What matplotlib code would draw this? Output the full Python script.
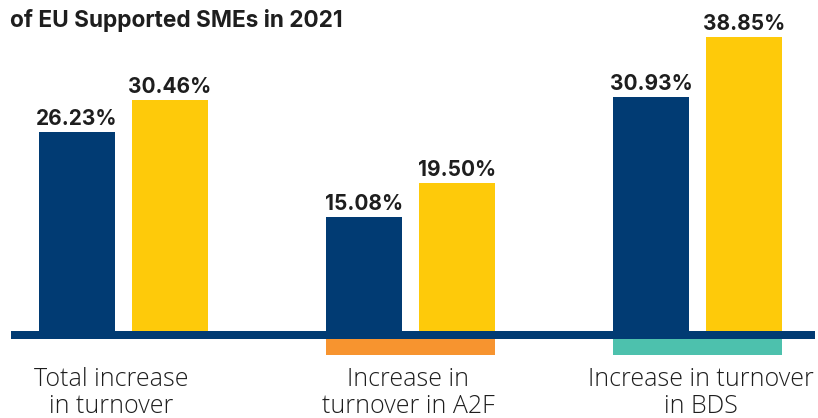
import matplotlib
matplotlib.use("Agg")
import matplotlib.pyplot as plt
from matplotlib.patches import Rectangle

# Data
categories = ["Total increase\nin turnover", "Increase in\nturnover in A2F", "Increase in turnover\nin BDS"]
series_a = [26.23, 15.08, 30.93]   # dark blue bars
series_b = [30.46, 19.50, 38.85]   # yellow bars
strip_colors = [None, "#F7942F", "#4DC1AD"]

NAVY = "#013B73"
YELLOW = "#FECA0A"
TEXT = "#1E1E1E"

plt.rcParams["font.family"] = ["Open Sans", "DejaVu Sans"]
BOLD_FONT = ["Inter", "DejaVu Sans"]

fig = plt.figure(figsize=(8.18, 4.18), dpi=100)
ax = fig.add_axes([0, 0, 1, 1])
ax.set_xlim(-0.430, 2.420)
ax.set_ylim(-11.49, 43.73)
ax.axis("off")

width = 0.265
offset = 0.162
x = range(len(categories))

ax.bar([i - offset for i in x], series_a, width=width, color=NAVY, zorder=2)
ax.bar([i + offset for i in x], series_b, width=width, color=YELLOW, zorder=2)

for i in x:
    ax.text(i - offset, series_a[i] + 0.95, f"{series_a[i]:.2f}%", ha="center", va="baseline",
            fontsize=15, fontweight="bold", color=TEXT, family=BOLD_FONT)
    ax.text(i + offset, series_b[i] + 0.95, f"{series_b[i]:.2f}%", ha="center", va="baseline",
            fontsize=15, fontweight="bold", color=TEXT, family=BOLD_FONT)

# baseline bar
ax.axhspan(-1.06, 0, xmin=11 / 818, xmax=815 / 818, color=NAVY, zorder=3, lw=0)

# coloured strips under groups
for i, c in zip(x, strip_colors):
    if c is None:
        continue
    ax.add_patch(Rectangle((i - offset - width / 2, -3.17), 2 * offset + width, 3.17 - 1.06,
                           color=c, lw=0, zorder=2))

# category labels
label_x = [-0.043, -0.007, 0.012]
for i in x:
    ax.text(i + label_x[i], -4.75, categories[i], ha="center", va="top", fontsize=18,
            fontweight="light", color=TEXT, linespacing=1.1)

fig.text(10 / 818, 1 - 27 / 418, "of EU Supported SMEs in 2021", ha="left", va="baseline",
         fontsize=16.3, fontweight="bold", color=TEXT, family=BOLD_FONT)

fig.savefig("out.png", dpi=100)
